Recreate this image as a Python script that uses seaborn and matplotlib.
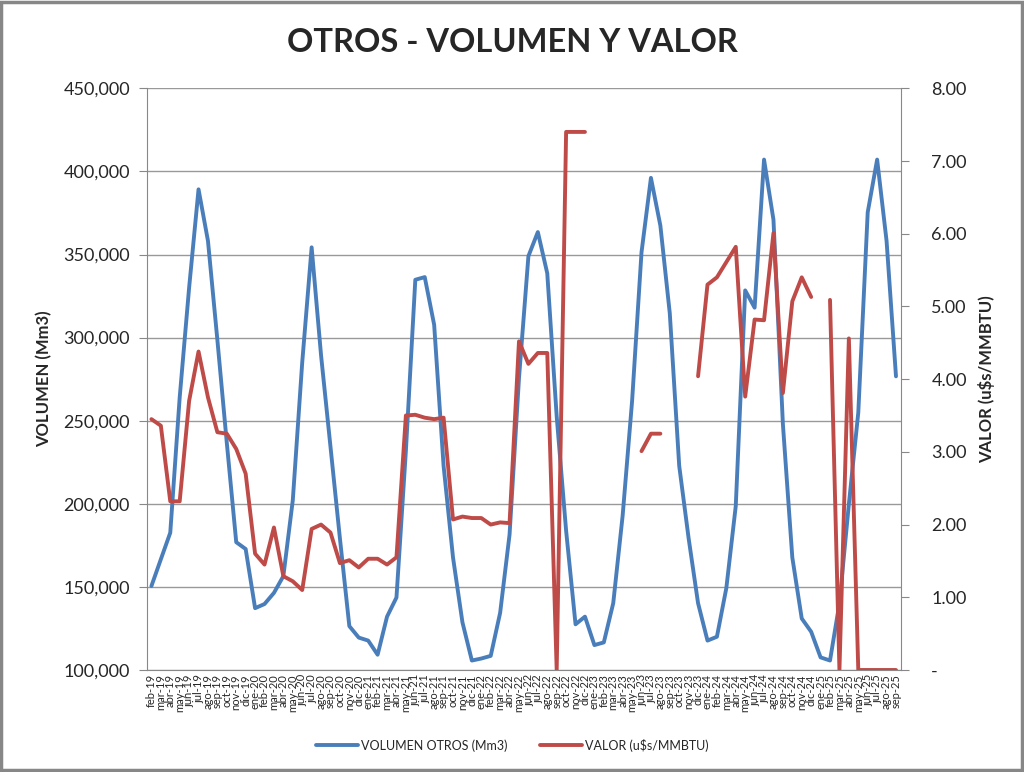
import numpy as np
import pandas as pd
import matplotlib
matplotlib.use('Agg')
import matplotlib.pyplot as plt
from matplotlib.patches import Rectangle
from matplotlib.ticker import FuncFormatter, MultipleLocator
from matplotlib.lines import Line2D
import seaborn as sns

meses = ['ene', 'feb', 'mar', 'abr', 'may', 'jun', 'jul', 'ago', 'sep', 'oct', 'nov', 'dic']
periodos = [f'{meses[(m - 1) % 12]}-{19 + (m - 1) // 12}' for m in range(2, 2 + 80)]

volumen = [150500, 166600, 182600, 264000, 330000, 389200, 358200, 298500, 236600, 176900,
           172800, 137200, 139700, 146400, 156500, 202100, 285000, 354300, 289300, 234300,
           179200, 126400, 119500, 117700, 109200, 132100, 143600, 231900, 334800, 336400,
           307700, 222800, 167700, 128700, 105700, 106900, 108500, 134400, 181500, 275600,
           349000, 363500, 338700, 252600, 183800, 127500, 132100, 115000, 116600, 140200,
           193000, 261800, 351300, 396100, 367400, 314600, 222800, 179200, 140200, 117700,
           120000, 149300, 198700, 328400, 318000, 407100, 370900, 248000, 167700, 131000,
           123000, 107600, 105700, 140200, 199800, 254900, 375400, 407100, 358200, 276700]

nan = np.nan
valor = [3.45, 3.36, 2.32, 2.32, 3.70, 4.38, 3.75, 3.27, 3.25, 3.04,
         2.70, 1.60, 1.45, 1.96, 1.29, 1.22, 1.10, 1.94, 2.00, 1.89,
         1.47, 1.51, 1.41, 1.53, 1.53, 1.45, 1.55, 3.50, 3.51, 3.47,
         3.45, 3.47, 2.07, 2.11, 2.09, 2.09, 2.00, 2.03, 2.02, 4.52,
         4.21, 4.36, 4.36, 0.00, 7.40, 7.40, 7.40, nan, nan, nan,
         nan, nan, 3.01, 3.25, 3.25, nan, nan, nan, 4.04, 5.30,
         5.40, 5.61, 5.82, 3.76, 4.82, 4.81, 6.01, 3.81, 5.07, 5.40,
         5.13, nan, 5.09, 0.00, 4.56, 0.00, 0.00, 0.00, 0.00, 0.00]

df = pd.DataFrame({'idx': np.arange(len(periodos)), 'periodo': periodos,
                   'volumen': volumen, 'valor': valor})
# tramos continuos del valor (los huecos cortan la linea)
df['tramo'] = df['valor'].isna().cumsum()
df_valor = df.dropna(subset=['valor'])

azul = '#4A7EBB'
rojo = '#BE4B48'
gris = '#888888'

sns.set_style('white')
plt.rcParams['font.family'] = ['Lato', 'DejaVu Sans']

fig = plt.figure(figsize=(10.24, 7.72), dpi=100)
ax = fig.add_axes([146.7 / 1024, 1 - 670 / 772, (900.7 - 146.7) / 1024, (670 - 88.3) / 772])
ax2 = ax.twinx()

sns.lineplot(data=df, x='idx', y='volumen', ax=ax, color=azul, linewidth=2.8, legend=False)
sns.lineplot(data=df_valor, x='idx', y='valor', units='tramo', estimator=None, ax=ax2,
             color=rojo, linewidth=2.8, legend=False)

ax.set_xlim(-0.5, len(periodos) - 0.5)
ax.set_ylim(100000, 450000)
ax2.set_ylim(0, 8)

ax.yaxis.set_major_locator(MultipleLocator(50000))
ax.yaxis.set_major_formatter(FuncFormatter(lambda v, p: f'{v:,.0f}'))
ax2.yaxis.set_major_locator(MultipleLocator(1))
ax2.yaxis.set_major_formatter(FuncFormatter(lambda v, p: '-' if v == 0 else f'{v:.2f}'))

ax.set_xticks(df['idx'])
ax.set_xticklabels(periodos, rotation=90, fontsize=8)
ax.set_xticks(np.arange(-0.5, len(periodos)), minor=True)
ax.tick_params(axis='x', which='major', length=0, pad=3)
ax.tick_params(axis='x', which='minor', length=5, color=gris, width=0.8)
ax.tick_params(axis='y', length=6, color=gris, width=0.8, labelsize=13, pad=6, left=True)
ax2.tick_params(axis='y', length=6, color=gris, width=0.8, labelsize=13, pad=16, right=True)

ax.grid(axis='y', color='#999999', linewidth=1)
ax.grid(axis='x', visible=False)
ax2.grid(False)

for a in (ax, ax2):
    for s in a.spines.values():
        s.set_visible(False)
ax.spines['left'].set_visible(True)
ax.spines['left'].set_color(gris)
ax.spines['bottom'].set_visible(True)
ax.spines['bottom'].set_color(gris)
ax2.spines['right'].set_visible(True)
ax2.spines['right'].set_color(gris)

ax.set_xlabel('')
ax.set_ylabel('VOLUMEN (Mm3)', fontsize=12, fontweight='bold', labelpad=8)
ax2.set_ylabel('VALOR (u$s/MMBTU)', fontsize=12, fontweight='bold', labelpad=8)

fig.text(0.5, 1 - 42 / 772, 'OTROS - VOLUMEN Y VALOR', ha='center', va='center',
         fontsize=23.5, fontweight='bold')

handles = [Line2D([], [], color=azul, linewidth=2.8),
           Line2D([], [], color=rojo, linewidth=2.8)]
fig.legend(handles, ['VOLUMEN OTROS (Mm3)', 'VALOR (u$s/MMBTU)'], loc='center',
           bbox_to_anchor=(0.5, 1 - 745 / 772), ncol=2, frameon=False, fontsize=9,
           handlelength=3.4, handletextpad=0.2, columnspacing=2.6)

fig.patches.append(Rectangle((0.001, 0.002), 0.997, 0.996, transform=fig.transFigure,
                             fill=False, edgecolor='#878787', linewidth=2.5))

fig.savefig('out.png', dpi=100)
